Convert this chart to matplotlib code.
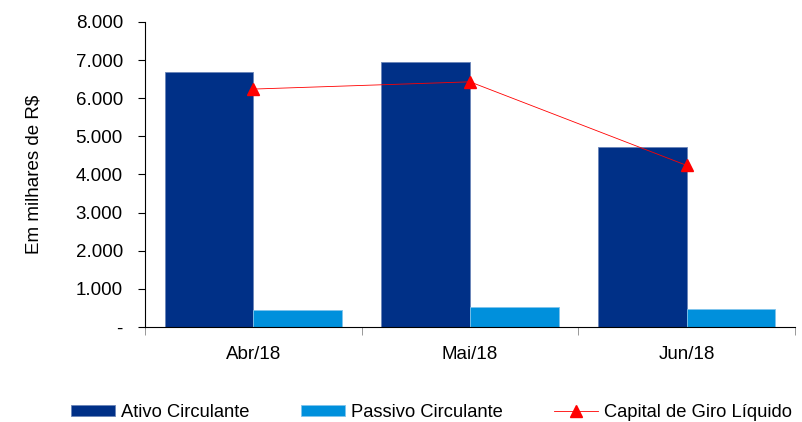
import matplotlib.pyplot as plt
import numpy as np
from matplotlib.ticker import FuncFormatter

plt.rcParams['font.family'] = ['Liberation Sans', 'DejaVu Sans']

meses = ['Abr/18', 'Mai/18', 'Jun/18']
ativo = [6690, 6950, 4720]
passivo = [450, 520, 480]
capital = [6240, 6430, 4240]

x = np.arange(len(meses))
w = 0.41

fig = plt.figure(figsize=(8.02, 4.22), dpi=100)
ax = fig.add_axes([0.181, 0.225, 0.81, 0.723])

b1 = ax.bar(x - w / 2, ativo, w, color='#003087', edgecolor='#6a85b8', linewidth=0.6,
            label='Ativo Circulante')
b2 = ax.bar(x + w / 2, passivo, w, color='#0090dc', edgecolor='#7fc4ec', linewidth=0.6,
            label='Passivo Circulante')
l1, = ax.plot(x, capital, color='red', linewidth=0.6, marker='^', markersize=8,
              markeredgecolor='red', markerfacecolor='red', label='Capital de Giro Líquido')

ax.set_xlim(-0.5, 2.5)
ax.set_ylim(0, 8000)
ax.set_yticks(np.arange(0, 8001, 1000))
ax.yaxis.set_major_formatter(FuncFormatter(
    lambda v, p: '-' if v == 0 else f'{int(v):,}'.replace(',', '.')))
ax.set_xticks(x)
ax.set_xticklabels(meses)
ax.set_xticks([-0.5, 0.5, 1.5, 2.5], minor=True)
ax.tick_params(axis='x', which='major', length=0, pad=14, labelsize=13.5)
ax.tick_params(axis='x', which='minor', length=6, direction='out', color='#888888')
ax.tick_params(axis='y', length=5, direction='out', labelsize=13.5, pad=11)
ax.set_ylabel('Em milhares de R$', fontsize=13.5, labelpad=24)

for s in ['top', 'right']:
    ax.spines[s].set_visible(False)

fig.legend([b1, b2, l1], ['Ativo Circulante', 'Passivo Circulante', 'Capital de Giro Líquido'],
           loc='lower left', bbox_to_anchor=(0.068, -0.037), ncol=3, frameon=False,
           fontsize=13.2, handlelength=2.4, handleheight=0.5, columnspacing=2.8,
           handletextpad=0.32)

fig.savefig('out.png', dpi=100)
